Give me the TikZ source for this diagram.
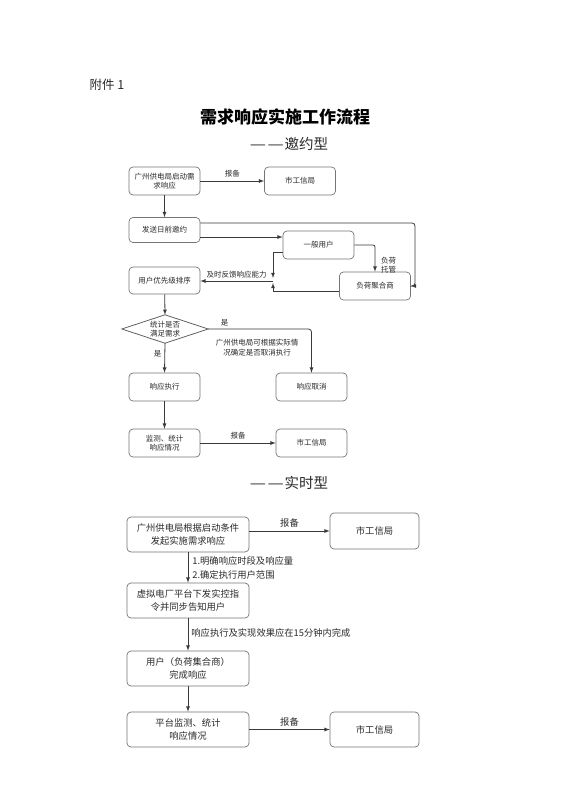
\documentclass[tikz,border=0pt]{standalone}
\usepackage{fontspec}
\setmainfont{Noto Sans CJK SC}
\usepackage{graphicx}
\usepackage{tikz}
\usetikzlibrary{arrows,calc,positioning,shapes.geometric}
\definecolor{linec}{HTML}{3A3A3A}
\definecolor{textc}{HTML}{2A2A2A}
\tikzstyle{box}=[draw=linec!70,rounded corners=4pt,line width=0.7pt,align=center,inner sep=0pt,text=textc,font=\fontsize{7.5}{9.5}\selectfont,minimum width=71pt,minimum height=28pt]
\tikzstyle{bigbox}=[box,font=\fontsize{9.3}{12.5}\selectfont,minimum width=122pt,minimum height=35pt]
\tikzstyle{lbl}=[text=textc,inner sep=1pt,align=left,font=\fontsize{7.5}{9.5}\selectfont]
\tikzstyle{biglbl}=[lbl,font=\fontsize{9.3}{14}\selectfont]
\tikzstyle{line}=[draw=linec,line width=0.8pt]
\newcommand{\dashpair}{\scalebox{1.25}[1]{—}\hspace{1.5pt}\scalebox{1.25}[1]{—}\hspace{1pt}}

\begin{document}
\begin{tikzpicture}[>=latex,x=1pt,y=-1pt]
\useasboundingbox[fill=white] (0,0) rectangle (566,800);
% headings
\node[anchor=west,text=textc,font=\fontsize{12.5}{14}\selectfont] (att) at (86,85) {附件 1};
\node[text=black,font=\fontsize{17}{20}\bfseries\selectfont] (title) at (285,117) {需求响应实施工作流程};
\node[text=textc,font=\fontsize{14.5}{16}\selectfont] (sub1) at (289,144) {\dashpair 邀约型};
% invitation type
\node[box] (A) at (164.5,181) {广州供电局启动需\\求响应};
\node[box] (B) at (300,181) {市工信局};
\node[box,minimum height=25pt] (C) at (164.5,230) {发送日前邀约};
\node[box] (D) at (318.5,245) {一般用户};
\node[box] (E) at (375,286) {负荷聚合商};
\node[box,minimum height=27pt] (F) at (164.5,280.5) {用户优先级排序};
\node[minimum width=86pt,minimum height=28pt,inner sep=0pt,align=center,text=textc,font=\fontsize{7.5}{9.5}\selectfont] (G) at (165,329) {统计是否\\满足需求};
\draw[line,draw=linec!80] (G.west) -- (G.north) -- (G.east) -- (G.south) -- cycle;
\node[box] (H) at (311.5,387) {响应取消};
\node[box] (I) at (164.5,387) {响应执行};
\node[box] (J) at (164.5,443) {监测、统计\\响应情况};
\node[box] (K) at (311.5,443) {市工信局};
\coordinate (c1) at (415,223);
\coordinate (fb) at (273,281);
\draw[line,->] (A) -- node[lbl,above=2pt]{报备} (B);
\draw[line,->] (A) -- (C);
\draw[line,->] ([yshift=-7pt]C.east) -- ([yshift=-7pt]C.east -| D.west);
\draw[line,->,rounded corners=3pt] ([yshift=7pt]C.east) -- (c1) |- (E.east);
\draw[line,->,rounded corners=2pt] (D.east) -| (E.north);
\node[lbl,anchor=west] (tg) at (380,265) {负荷\\托管};
\draw[line,->] ([yshift=-7pt]D.west) -| ([yshift=3pt]fb);
\draw[line,->] ([yshift=-5pt]E.west) -| ([yshift=-2pt]fb);
\draw[line,->] (fb) -- node[lbl,above=1pt]{及时反馈响应能力} (F.east |- fb);
\draw[line,->] (F) -- (G.north);
\draw[line,->,rounded corners=3pt] (G.east) -| node[lbl,pos=0.08,above=1pt]{是} (H.north);
\node[lbl,align=center] (note) at (257,347.5) {广州供电局可根据实际情\\况确定是否取消执行};
\draw[line,->] (G.south) -- node[lbl,left=2pt,pos=0.35]{是} (I.north);
\draw[line,->] (I) -- (J);
\draw[line,->] (J) -- node[lbl,above=2pt]{报备} (K);
% real-time type
\node[text=textc,font=\fontsize{14.5}{16}\selectfont] (sub2) at (289,483) {\dashpair 实时型};
\node[bigbox] (L) at (188,534.5) {广州供电局根据启动条件\\发起实施需求响应};
\node[bigbox,minimum width=89pt,minimum height=36pt] (M) at (374.5,531) {市工信局};
\node[bigbox] (N) at (188,600.5) {虚拟电厂平台下发实控指\\令并同步告知用户};
\node[bigbox] (O) at (188,668.5) {用户（负荷集合商）\\完成响应};
\node[bigbox] (P) at (188,729.5) {平台监测、统计\\响应情况};
\node[bigbox,minimum width=89pt] (Q) at (374.5,729.5) {市工信局};
\draw[line,->] (L.east |- M.west) -- node[biglbl,above=2pt]{报备} (M.west);
\draw[line,->] (L) -- node[biglbl,right=3pt]{1.明确响应时段及响应量\\2.确定执行用户范围} (N);
\draw[line,->] (N) -- node[biglbl,right=2pt,pos=0.45]{响应执行及实现效果应在15分钟内完成} (O);
\draw[line,->] (O) -- (P);
\draw[line,->] (P) -- node[biglbl,above=2pt]{报备} (Q);
\end{tikzpicture}
\end{document}
